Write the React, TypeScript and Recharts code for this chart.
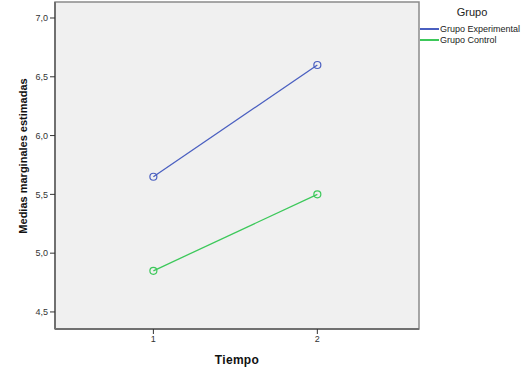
import React from "react";
import {
  LineChart,
  Line,
  XAxis,
  YAxis,
  CartesianGrid,
  ReferenceArea,
} from "recharts";

const tiempos = [1, 2];
const experimental = [5.65, 6.6];
const control = [4.85, 5.5];
const yTicks = [4.5, 5.0, 5.5, 6.0, 6.5, 7.0];

const seriesNames = ["Grupo Experimental", "Grupo Control"];
const colors = ["#4A5FC0", "#3CC85A"];

const data = tiempos.map((t, i) => ({
  tiempo: t,
  exp: experimental[i],
  ctrl: control[i],
}));

const font = "'Liberation Sans', Arial, sans-serif";

const App: React.FC = () => {
  return (
    <div
      style={{
        position: "absolute",
        left: 0,
        top: 0,
        width: 529,
        height: 377,
        background: "#fff",
        fontFamily: font,
      }}
    >
      <LineChart
        width={529}
        height={377}
        data={data}
        margin={{ top: 2, right: 110, left: 0, bottom: 0 }}
      >
        <CartesianGrid horizontal={false} vertical={false} fill="#F0F0F0" />
        <ReferenceArea
          x1={0.4}
          x2={2.62}
          y1={4.355}
          y2={7.136}
          fill="none"
          stroke="#8a8a8a"
          strokeWidth={1.5}
        />
        <XAxis
          dataKey="tiempo"
          type="number"
          domain={[0.4, 2.62]}
          ticks={tiempos}
          height={48}
          axisLine={{ stroke: "#707070", strokeWidth: 2 }}
          tickLine={{ stroke: "#333" }}
          tickSize={5}
          tick={{ fontSize: 9, fill: "#333", fontFamily: font }}
          label={{
            value: "Tiempo",
            position: "insideBottom",
            offset: 13,
            style: {
              fontSize: 12,
              fontWeight: "bold",
              fill: "#111",
              fontFamily: font,
              letterSpacing: 0.3,
            },
          }}
        />
        <YAxis
          type="number"
          domain={[4.355, 7.136]}
          ticks={yTicks}
          width={55}
          axisLine={{ stroke: "#707070", strokeWidth: 2 }}
          tickLine={{ stroke: "#333" }}
          tickSize={5}
          tickFormatter={(v: number) => v.toFixed(1).replace(".", ",")}
          tick={{ fontSize: 9, fill: "#333", fontFamily: font }}
          label={{
            content: () => (
              <text
                transform="translate(23,156) rotate(-90)"
                textAnchor="middle"
                dominantBaseline="central"
                style={{
                  fontSize: 11,
                  fontWeight: "bold",
                  fill: "#111",
                  fontFamily: font,
                }}
              >
                Medias marginales estimadas
              </text>
            ),
          }}
        />
        <Line
          dataKey="exp"
          name={seriesNames[0]}
          stroke={colors[0]}
          strokeWidth={1.3}
          dot={{ r: 3.5, fill: "none", stroke: colors[0], strokeWidth: 1.2 }}
          isAnimationActive={false}
        />
        <Line
          dataKey="ctrl"
          name={seriesNames[1]}
          stroke={colors[1]}
          strokeWidth={1.3}
          dot={{ r: 3.5, fill: "none", stroke: colors[1], strokeWidth: 1.2 }}
          isAnimationActive={false}
        />
      </LineChart>

      {/* leyenda */}
      <div
        style={{
          position: "absolute",
          left: 420,
          top: 6,
          width: 109,
          fontSize: 9,
          color: "#222",
        }}
      >
        <div
          style={{
            position: "absolute",
            left: 52,
            top: 0,
            transform: "translateX(-50%)",
            fontSize: 11,
          }}
        >
          Grupo
        </div>
        <div style={{ position: "absolute", top: 17, left: 0, width: 109 }}>
          {seriesNames.map((n, i) => (
            <div key={n} style={{ display: "flex", alignItems: "center", height: 11 }}>
              <span
                style={{
                  display: "inline-block",
                  width: 19,
                  height: 2,
                  background: colors[i],
                  marginRight: 1,
                }}
              />
              <span>{n}</span>
            </div>
          ))}
        </div>
      </div>
    </div>
  );
};

export default App;
